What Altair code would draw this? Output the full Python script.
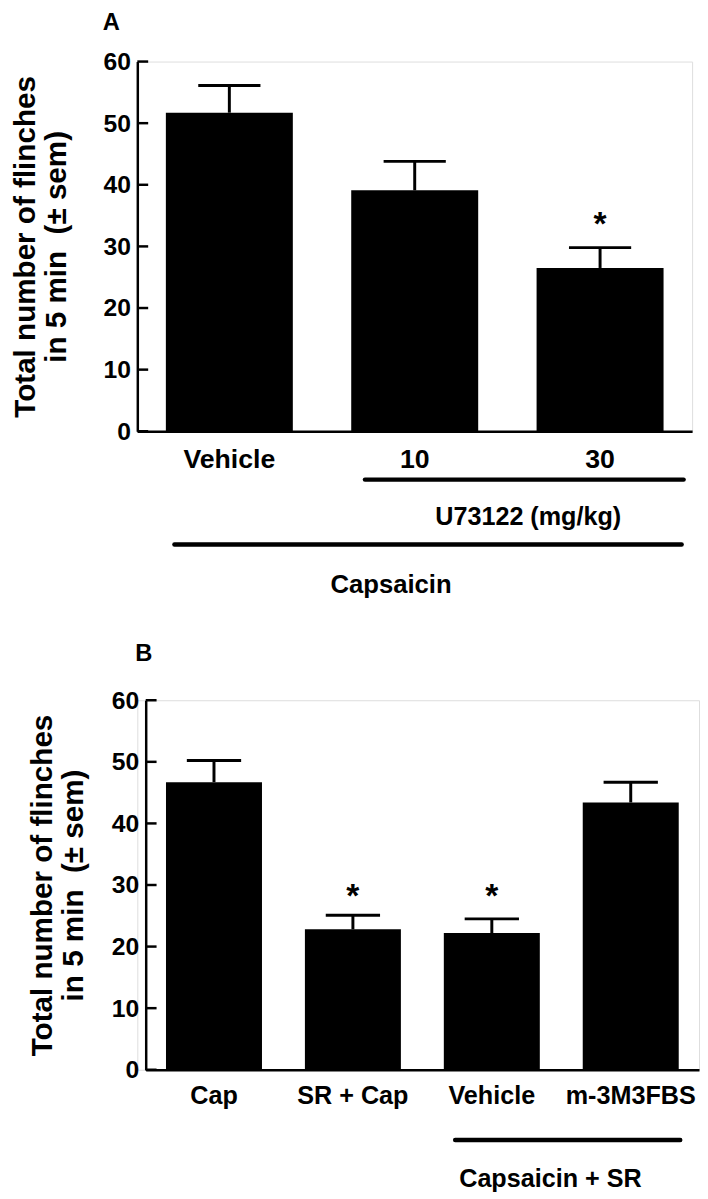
import altair as alt
import pandas as pd

FONT = "Liberation Sans"

# ---------------- data ----------------
A_groups = ["Vehicle", "10", "30"]
A_means = [51.7, 39.1, 26.5]
A_err_top = [56.1, 43.8, 29.8]
A_star_groups = ["30"]
A_star_y = [34.9]

B_groups = ["Cap", "SR + Cap", "Vehicle", "m-3M3FBS"]
B_means = [46.7, 22.8, 22.2, 43.4]
B_err_top = [50.2, 25.1, 24.5, 46.7]
B_star_groups = ["SR + Cap", "Vehicle"]
B_star_y = [29.4, 29.4]

y_ticks = [0, 10, 20, 30, 40, 50, 60]
y_title = ["Total number of flinches", "in 5 min\u00a0 (\u00b1 sem)"]


def panel(groups, means, tops, star_groups, star_y, width, height, x0,
          pad_inner, pad_outer, cap, xlab_size, xlab_pad, letter, letter_x,
          letter_y, rules, texts):
    df = pd.DataFrame({"g": groups, "m": means, "t": tops})
    sdf = pd.DataFrame({"g": star_groups, "s": star_y})
    tdf = pd.DataFrame({"v": y_ticks})
    one = pd.DataFrame({"a": [0]})

    xscale = alt.Scale(domain=groups, range=[x0, width],
                       paddingInner=pad_inner, paddingOuter=pad_outer)
    xaxis = alt.Axis(title=None, labelAngle=0, labelFont=FONT,
                     labelFontSize=xlab_size, labelFontWeight="bold",
                     labelColor="black", labelPadding=xlab_pad,
                     labelBaseline="top", ticks=False, tickSize=0,
                     domainColor="black", domainWidth=2.5, grid=False)
    yscale = alt.Scale(domain=[0, 60], nice=False)
    yaxis = alt.Axis(values=y_ticks, title=y_title, titleFont=FONT,
                     titleFontSize=30, titleFontWeight="bold",
                     titleColor="black", titleLineHeight=31,
                     titleAngle=270, titleAlign="center",
                     titleBaseline="alphabetic", titleX=-104 + x0,
                     titleY=height / 2, labelFont=FONT, labelFontSize=25,
                     labelFontWeight="bold", labelColor="black",
                     labelPadding=7, ticks=False, tickSize=0,
                     domainColor="black", domainWidth=2.5, grid=False,
                     offset=-x0)

    def X(f="g"):
        return alt.X(f + ":N", sort=groups, scale=xscale, axis=xaxis)

    def Y(f):
        return alt.Y(f + ":Q", scale=yscale, axis=yaxis)

    bars = alt.Chart(df).mark_bar(color="black", opacity=1).encode(
        x=X(), y=Y("m"))
    err = alt.Chart(df).mark_rule(color="black", strokeWidth=3).encode(
        x=X(), y=Y("m"), y2="t:Q")
    caps = alt.Chart(df).mark_tick(color="black", size=cap, thickness=3,
                                   opacity=1).encode(x=X(), y=Y("t"))
    stars = alt.Chart(sdf).mark_text(text="*", font=FONT, fontSize=34,
                                     fontWeight="bold", color="black",
                                     baseline="middle", dy=9).encode(
        x=X(), y=Y("s"))
    ticks = alt.Chart(tdf).mark_rule(color="black", strokeWidth=2.5).encode(
        y=Y("v"), x=alt.value(x0), x2=alt.value(x0 + 11))
    layers = [bars, err, caps, stars, ticks]

    layers.append(alt.Chart(one).mark_text(
        text=letter, font=FONT, fontSize=24, fontWeight="bold",
        color="black", align="left", baseline="top").encode(
        x=alt.value(letter_x), y=alt.value(letter_y)))
    for (xa, xb, yy) in rules:
        layers.append(alt.Chart(one).mark_rule(
            color="black", strokeWidth=4.5, strokeCap="round").encode(
            x=alt.value(xa), x2=alt.value(xb), y=alt.value(yy)))
    for (txt, xx, yy, fs) in texts:
        layers.append(alt.Chart(one).mark_text(
            text=txt, font=FONT, fontSize=fs, fontWeight="bold",
            color="black", align="center", baseline="alphabetic").encode(
            x=alt.value(xx), y=alt.value(yy)))

    return alt.layer(*layers).properties(width=width, height=height)


A = panel(A_groups, A_means, A_err_top, A_star_groups, A_star_y,
          width=562, height=374.5, x0=0, pad_inner=0.315, pad_outer=0.154,
          cap=63, xlab_size=27, xlab_pad=16, letter="A", letter_x=-35,
          letter_y=-50.5,
          rules=[(230.6, 553.4, 423.5), (37.6, 551.4, 489.2)],
          texts=[("U73122 (mg/kg)", 396, 469.2, 25.5),
                 ("Capsaicin", 257, 538.5, 26)])

B = panel(B_groups, B_means, B_err_top, B_star_groups, B_star_y,
          width=569, height=374.3, x0=8.5, pad_inner=0.309, pad_outer=0.146,
          cap=55, xlab_size=25.5, xlab_pad=14, letter="B", letter_x=-2,
          letter_y=-59,
          rules=[(322, 550, 445.5)],
          texts=[("Capsaicin + SR", 418.5, 493, 25.5)])

chart = alt.vconcat(A, B, spacing=43).properties(
    padding={"left": 2, "top": -4.5, "right": 0, "bottom": 0},
    background="white"
).configure_view(stroke=None).configure(font=FONT)

chart.save("out.html", embed_options={"renderer": "svg", "actions": False})
